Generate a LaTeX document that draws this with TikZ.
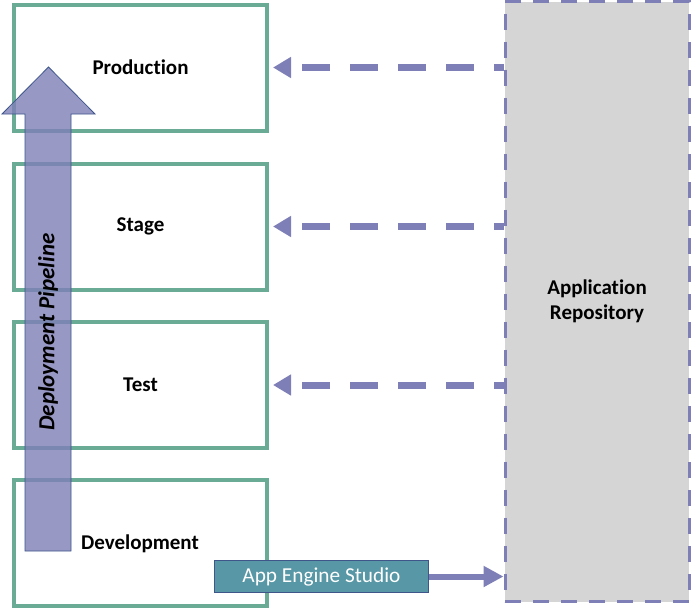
\documentclass[tikz,border=0pt]{standalone}
\usepackage{fontspec}
\setmainfont[Ligatures=NoCommon]{Carlito}
\usetikzlibrary{arrows.meta}
\definecolor{boxgreen}{RGB}{106,171,150}
\definecolor{pipeblue}{RGB}{127,127,183}
\definecolor{repogray}{RGB}{213,213,213}
\definecolor{studioteal}{RGB}{88,151,165}
\definecolor{edgeblue}{RGB}{62,86,138}
\tikzstyle{stagebox}=[
      rectangle,
      line width = 4pt,
      draw = boxgreen,
      fill = white,
      minimum width = 253pt,
      minimum height = 126pt,
      font = \fontsize{21}{25}\selectfont\bfseries
      ]
\tikzstyle{repobox}=[
      rectangle,
      line width = 3pt,
      draw = pipeblue,
      fill = repogray,
      dash pattern = on 16pt off 12pt,
      minimum width = 184pt,
      minimum height = 600pt,
      align = center,
      font = \fontsize{21}{25}\selectfont\bfseries
      ]
\tikzstyle{studiobox}=[
      rectangle,
      line width = 1pt,
      draw = edgeblue,
      fill = studioteal,
      minimum width = 214pt,
      minimum height = 32pt,
      text = white,
      font = \fontsize{21.3}{24}\selectfont
      ]
\tikzstyle{pullarrow}=[
      line width = 7pt,
      draw = pipeblue,
      dash pattern = on 28pt off 20pt,
      dash phase = 18pt,
      -{Triangle[length=18pt,width=20pt]}
      ]
\tikzstyle{pusharrow}=[
      line width = 6pt,
      draw = pipeblue,
      -{Triangle[length=20pt,width=20pt]}
      ]

\begin{document}
\begin{tikzpicture}[x=1pt,y=-1pt]
\useasboundingbox (0,0) rectangle (691,611);

% environments
\node [stagebox] (prod)  at (140.5,67.5)  {};
\node [stagebox] (stage) at (140.5,226.5) {};
\node [stagebox] (test)  at (140.5,385)   {};
\node [stagebox] (dev)   at (140.5,543)   {};

% pipeline arrow
\draw [edgeblue, line width=0.8pt, fill=pipeblue, fill opacity=0.8]
  (25,551) -- (25,114) -- (2,114) -- (48.5,67) -- (95,114)
  -- (71,114) -- (71,551) -- cycle;
\node [rotate=90, font=\fontsize{23}{26}\selectfont\bfseries\itshape]
  (pipe) at (48,332) {Deployment Pipeline};

% labels
\node [font=\fontsize{21}{25}\selectfont\bfseries] at (prod)  {Production};
\node [font=\fontsize{21}{25}\selectfont\bfseries] at (stage) {Stage};
\node [font=\fontsize{21}{25}\selectfont\bfseries] at (test)  {Test};
\node [font=\fontsize{21}{25}\selectfont\bfseries] at (140,544) {Development};

% repository
\node [repobox] (repo) at (597,301.5) {Application\\Repository};

\node [studiobox] (aes) at (321.5,576.5) {App Engine Studio};

% connectors
\draw [pullarrow] (repo.west |- prod.east)  -- ([xshift=4pt]prod.east);
\draw [pullarrow] (repo.west |- stage.east) -- ([xshift=4pt]stage.east);
\draw [pullarrow] (repo.west |- test.east)  -- ([xshift=4pt]test.east);
\draw [pusharrow] (aes.east) -- (repo.west |- aes.east);
\end{tikzpicture}
\end{document}
